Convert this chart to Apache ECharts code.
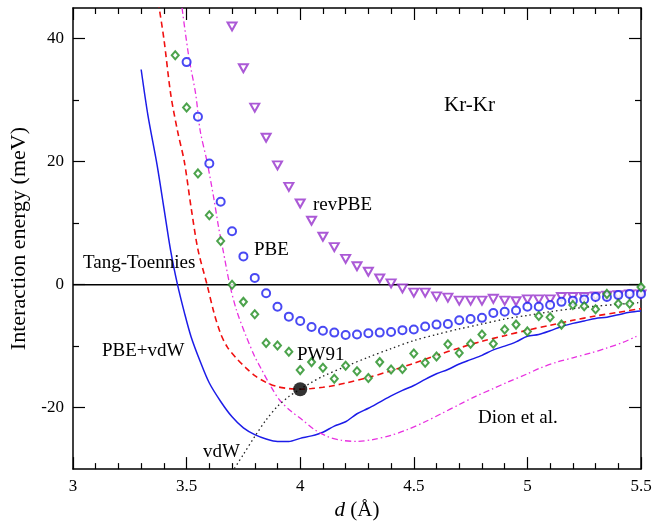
<!DOCTYPE html>
<html>
<head>
<meta charset="utf-8">
<script src="https://cdn.jsdelivr.net/npm/echarts@6/dist/echarts.min.js"></script>
<style>
  html, body { margin: 0; padding: 0; background: #fff; }
  #main { width: 663px; height: 526px; }
</style>
</head>
<body>
<div id="main"></div>
<script>
// 数据 (d in Å, energy in meV)
var revPBE = [
  [3.70, 42.0], [3.75, 35.2], [3.80, 28.8], [3.85, 23.9], [3.90, 19.4], [3.95, 15.9],
  [4.00, 13.2], [4.05, 10.4], [4.10, 7.8], [4.15, 6.1], [4.20, 4.2], [4.25, 3.0],
  [4.30, 2.1], [4.35, 1.0], [4.40, 0.2], [4.45, -0.6], [4.50, -1.3], [4.55, -1.3],
  [4.60, -1.9], [4.65, -2.1], [4.70, -2.6], [4.75, -2.6], [4.80, -2.6], [4.85, -2.3],
  [4.90, -2.6], [4.95, -2.7], [5.00, -2.4], [5.05, -2.4], [5.10, -2.4], [5.15, -2.0],
  [5.20, -2.0], [5.25, -2.0], [5.30, -1.9], [5.35, -1.8], [5.40, -1.7], [5.45, -1.6],
  [5.50, -1.6]
];
var pbe = [
  [3.50, 36.2], [3.55, 27.3], [3.60, 19.7], [3.65, 13.5], [3.70, 8.7], [3.75, 4.6],
  [3.80, 1.1], [3.85, -1.4], [3.90, -3.6], [3.95, -5.2], [4.00, -5.9], [4.05, -6.9],
  [4.10, -7.5], [4.15, -7.8], [4.20, -8.2], [4.25, -8.1], [4.30, -7.9], [4.35, -7.8],
  [4.40, -7.7], [4.45, -7.4], [4.50, -7.3], [4.55, -6.8], [4.60, -6.5], [4.65, -6.4],
  [4.70, -5.8], [4.75, -5.6], [4.80, -5.4], [4.85, -4.6], [4.90, -4.4], [4.95, -4.2],
  [5.00, -3.6], [5.05, -3.6], [5.10, -3.3], [5.15, -2.8], [5.20, -2.6], [5.25, -2.4],
  [5.30, -2.0], [5.35, -2.0], [5.40, -1.7], [5.45, -1.5], [5.50, -1.5]
];
var pw91 = [
  [3.45, 37.3], [3.50, 28.8], [3.55, 18.1], [3.60, 11.3], [3.65, 7.1], [3.70, 0.0],
  [3.75, -2.8], [3.80, -4.8], [3.85, -9.5], [3.90, -9.9], [3.95, -10.9], [4.00, -13.9],
  [4.05, -12.6], [4.10, -13.5], [4.15, -15.3], [4.20, -13.2], [4.25, -14.1], [4.30, -15.2],
  [4.35, -12.6], [4.40, -13.8], [4.45, -13.7], [4.50, -11.2], [4.55, -12.7], [4.60, -11.7],
  [4.65, -9.7], [4.70, -11.1], [4.75, -9.6], [4.80, -8.1], [4.85, -9.6], [4.90, -7.3],
  [4.95, -6.5], [5.00, -7.6], [5.05, -5.1], [5.10, -5.3], [5.15, -6.5], [5.20, -3.3],
  [5.25, -3.5], [5.30, -4.0], [5.35, -1.5], [5.40, -3.1], [5.45, -3.1], [5.50, -0.4]
];
var tangToennies = [
  [3.375, 46], [3.40, 40], [3.43, 31], [3.46, 25], [3.49, 20], [3.52, 12.5], [3.55, 5.7],
  [3.59, 0], [3.62, -4.5], [3.65, -8.0], [3.68, -10.2], [3.72, -12], [3.76, -13.5],
  [3.80, -14.8], [3.85, -15.9], [3.90, -16.6], [3.95, -16.9], [4.00, -17.0], [4.05, -16.9],
  [4.10, -16.7], [4.15, -16.4], [4.20, -16.0], [4.30, -15.1], [4.40, -14.0], [4.50, -12.8],
  [4.60, -11.5], [4.70, -10.3], [4.80, -9.2], [4.90, -8.3], [5.00, -7.4], [5.10, -6.6],
  [5.20, -5.8], [5.30, -5.1], [5.40, -4.5], [5.50, -3.9]
];
var pbeVdw = [
  [3.30, 35], [3.33, 27.5], [3.37, 19.5], [3.40, 12.5], [3.43, 5.5], [3.46, 0], [3.49, -4.5],
  [3.52, -8.5], [3.56, -12.5], [3.60, -16], [3.65, -19], [3.70, -21.5], [3.75, -23.3],
  [3.80, -24.4], [3.85, -25.1], [3.90, -25.5], [3.95, -25.5], [4.00, -25.0], [4.05, -24.6],
  [4.10, -24.0], [4.15, -23.0], [4.20, -22.3], [4.25, -21.0], [4.30, -20.1], [4.35, -19.1],
  [4.40, -18.1], [4.45, -17.2], [4.50, -16.4], [4.55, -15.4], [4.60, -14.5], [4.65, -13.8],
  [4.70, -12.9], [4.75, -12.2], [4.80, -11.5], [4.85, -10.6], [4.90, -10.0], [4.95, -9.3],
  [5.00, -8.4], [5.05, -8.1], [5.10, -7.5], [5.15, -6.8], [5.20, -6.3], [5.25, -5.9],
  [5.30, -5.5], [5.35, -5.3], [5.40, -4.9], [5.45, -4.5], [5.50, -4.3]
];
var dion = [
  [3.48, 45], [3.51, 37], [3.54, 31], [3.56, 25], [3.59, 20], [3.62, 14], [3.64, 9.5],
  [3.66, 5.7], [3.69, 0], [3.72, -4.2], [3.76, -8.2], [3.80, -11.7], [3.83, -13.8],
  [3.87, -16.5], [3.91, -18.8], [3.96, -20.6], [4.01, -22], [4.06, -23.5], [4.12, -24.7],
  [4.18, -25.3], [4.25, -25.5], [4.32, -25.2], [4.40, -24.5], [4.47, -23.6], [4.55, -22.3],
  [4.62, -21], [4.70, -19.5], [4.77, -18.2], [4.85, -16.9], [4.91, -15.9], [5.00, -14.5],
  [5.06, -13.5], [5.13, -12.6], [5.20, -11.9], [5.28, -11.1], [5.35, -10.3], [5.42, -9.4],
  [5.48, -8.4]
];
var vdw = [
  [3.70, -30.5], [3.75, -27.6], [3.80, -24.7], [3.85, -22.0], [3.90, -19.8], [3.95, -18.2],
  [4.00, -17.0], [4.05, -15.9], [4.10, -14.9], [4.20, -13.3], [4.30, -11.8], [4.40, -10.4],
  [4.50, -9.1], [4.60, -8.1], [4.70, -7.2], [4.80, -6.4], [4.90, -5.6], [5.00, -5.0],
  [5.10, -4.4], [5.20, -3.9], [5.30, -3.5], [5.40, -3.2], [5.50, -2.9]
];
var expPoint = [[4.00, -17.0]];
var zeroLine = [[3, 0], [5.5, 0]];

var yMajor = [-20, 0, 20, 40];
var yMinor = [-10, 10, 30];

var serif = '"Liberation Serif", "DejaVu Serif", serif';

var chart = echarts.init(document.getElementById('main'), null, { renderer: 'canvas' });

function xAxisCfg(pos, showLabel) {
  return {
    type: 'value',
    position: pos,
    min: 3, max: 5.5, interval: 0.5,
    axisLine: { show: true, onZero: false, lineStyle: { color: '#000', width: 1.5 } },
    axisTick: { show: true, inside: true, length: 12, lineStyle: { color: '#000', width: 1.2 } },
    minorTick: { show: true, splitNumber: 5, length: 6, lineStyle: { color: '#000', width: 1.2 } },
    splitLine: { show: false },
    minorSplitLine: { show: false },
    axisLabel: {
      show: showLabel, margin: 9, color: '#000', fontFamily: serif, fontSize: 17,
      formatter: function (v) { return String(v); }
    }
  };
}

function yAxisCfg(pos, ticks, len, showLabel, showLine) {
  return {
    type: 'value',
    position: pos,
    min: -30, max: 45,
    axisLine: { show: showLine, onZero: false, lineStyle: { color: '#000', width: 1.5 } },
    axisTick: { show: true, inside: true, length: len, customValues: ticks, lineStyle: { color: '#000', width: 1.2 } },
    splitLine: { show: false },
    axisLabel: {
      show: showLabel, customValues: ticks, margin: 9, color: '#000', fontFamily: serif, fontSize: 17
    }
  };
}

var yMain = yAxisCfg('left', yMajor, 12, true, true);
yMain.name = 'Interaction energy (meV)';
yMain.nameLocation = 'middle';
yMain.nameGap = 40;
yMain.nameTextStyle = { color: '#000', fontFamily: serif, fontSize: 22 };

var xMain = xAxisCfg('bottom', true);
xMain.name = '{i|d} (Å)';
xMain.nameLocation = 'middle';
xMain.nameGap = 30;
xMain.nameTextStyle = {
  color: '#000', fontFamily: serif, fontSize: 21,
  rich: { i: { fontStyle: 'italic', fontFamily: serif, fontSize: 21, color: '#000' } }
};

function textEl(str, left, cy, size) {
  return {
    type: 'text', left: left, top: cy - size * 0.6,
    style: { text: str, fill: '#000', font: size + 'px ' + serif },
    z: 100
  };
}

var option = {
  animation: false,
  backgroundColor: '#fff',
  grid: { left: 73, right: 22, top: 8, bottom: 50, containLabel: false },
  xAxis: [xMain, xAxisCfg('top', false)],
  yAxis: [
    yMain,
    yAxisCfg('right', yMajor, 12, false, true),
    yAxisCfg('left', yMinor, 6, false, false),
    yAxisCfg('right', yMinor, 6, false, false)
  ],
  series: [
    {
      name: 'zero', type: 'line', data: zeroLine, symbol: 'none',
      lineStyle: { color: '#000', width: 1.5 }, z: 1
    },
    {
      name: 'PBE+vdW', type: 'line', data: pbeVdw, symbol: 'none', smooth: 0.3,
      lineStyle: { color: '#1c1ce8', width: 1.5 }, z: 2
    },
    {
      name: 'Tang-Toennies', type: 'line', data: tangToennies, symbol: 'none', smooth: 0.3,
      lineStyle: { color: '#f01010', width: 1.6, type: [6, 4] }, z: 2
    },
    {
      name: 'Dion et al.', type: 'line', data: dion, symbol: 'none', smooth: 0.3,
      lineStyle: { color: '#e830e0', width: 1.3, type: [6, 3, 1.5, 3] }, z: 2
    },
    {
      name: 'vdW', type: 'line', data: vdw, symbol: 'none', smooth: 0.3,
      lineStyle: { color: '#222', width: 1.3, type: [1.5, 3] }, z: 2
    },
    {
      name: 'revPBE', type: 'scatter', data: revPBE, symbol: 'emptyTriangle', symbolRotate: 180,
      symbolSize: [9, 8], itemStyle: { color: '#9630cc', borderWidth: 1.5 }, z: 3
    },
    {
      name: 'PBE', type: 'scatter', data: pbe, symbol: 'emptyCircle', symbolSize: 8,
      itemStyle: { color: '#1c1cf0', borderWidth: 1.5 }, z: 3
    },
    {
      name: 'PW91', type: 'scatter', data: pw91, symbol: 'emptyDiamond', symbolSize: [7, 8],
      itemStyle: { color: '#1f8c1f', borderWidth: 1.5 }, z: 3
    },
    {
      name: 'exp', type: 'scatter', data: expPoint, symbol: 'circle', symbolSize: 14,
      itemStyle: { color: '#000' }, z: 4
    }
  ],
  graphic: [
    textEl('Kr-Kr', 444, 108, 21),
    textEl('revPBE', 313, 207, 19),
    textEl('PBE', 254, 252, 19),
    textEl('Tang-Toennies', 83, 265, 19),
    textEl('PBE+vdW', 102, 353, 19),
    textEl('PW91', 297, 357, 19),
    textEl('vdW', 203, 454, 19),
    textEl('Dion et al.', 478, 420, 19)
  ]
};
chart.setOption(option);
</script>
</body>
</html>
